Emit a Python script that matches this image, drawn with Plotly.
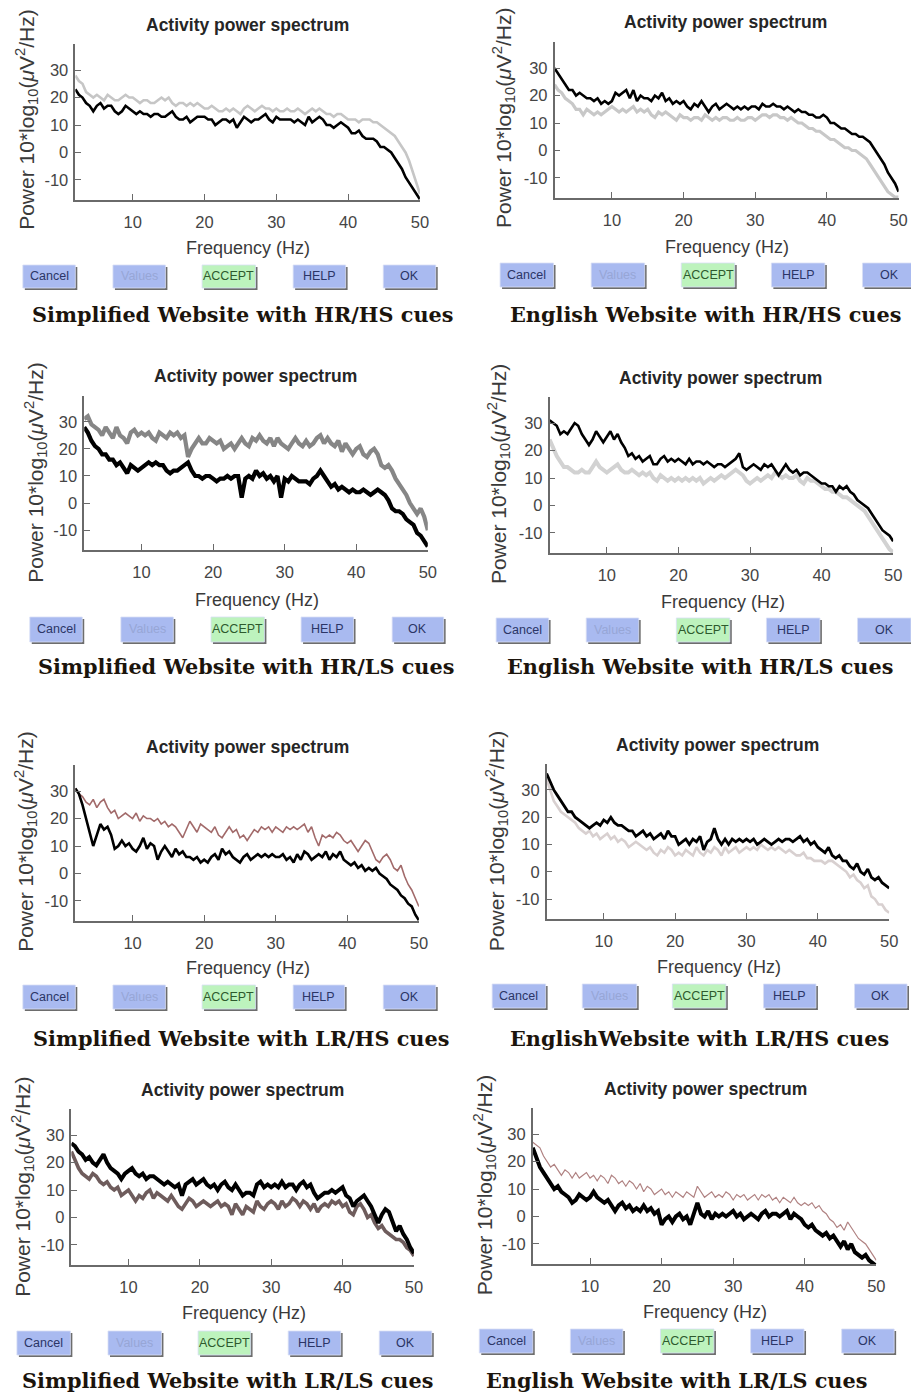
import numpy as np
import plotly.graph_objects as go

# page body has an 8 px default margin: the figure is sized/offset to fill the 919x1397 window
W, H, OFF = 911, 1389, 8
FREQ = np.arange(2.0, 50.01, 0.5)

# ---------------- data (dB), 2..50 Hz in 0.5 Hz steps ----------------
simp_hrhs_black = [23,21,20,18,17,15,17,18,16,17, 17,15,14,15,17,16,15,14,15,14,
                   14,13,14,14,13,13,14,15,13,12, 12,13,11,12,13,13,13,12,12,10,
                   11,12,12,11,12,9,11,13,12,11, 12,12,13,14,12,11,13,12,12,12,
                   12,11,12,11,10,13,11,12,13,12, 10,10,9,10,11,10,9,7,7,8,
                   6,5,5,5,4,2,2,1,0,-2, -4,-6,-9,-11,-13,-15,-17]
simp_hrhs_gray = [28,26,25,22,21,20,21,20,19,21, 20,19,19,20,21,20,20,19,18,19,
                  19,18,18,19,20,19,20,18,17,18, 18,17,18,17,18,17,16,16,17,16,
                  15,15,16,15,16,15,14,16,17,16, 15,16,17,16,16,15,16,15,15,16,
                  15,15,16,15,14,15,16,15,16,15, 14,14,13,14,14,13,12,12,12,11,
                  12,12,12,11,11,10,9,8,7,6, 4,2,0,-3,-7,-11,-15]

eng_hrhs_black = [30,28,26,24,22,22,20,21,20,19, 19,18,19,17,18,17,18,21,20,21,
                  22,19,22,18,20,19,19,18,20,19, 21,18,19,17,18,17,18,16,15,17,
                  16,18,16,14,16,17,15,16,17,16, 15,16,15,16,15,16,16,15,17,16,
                  16,17,16,16,15,16,15,14,15,14, 14,13,13,12,12,13,12,10,10,9,
                  8,8,7,6,6,5,5,4,3,1, -1,-3,-5,-8,-10,-12,-15]
eng_hrhs_gray = [24,22,21,19,18,17,15,15,13,15, 14,13,14,13,14,15,16,15,14,15,
                 14,15,16,14,15,14,15,13,12,14, 13,14,13,12,11,13,12,12,11,12,
                 12,11,13,12,11,12,11,12,12,11, 11,12,11,11,12,12,11,12,13,13,
                 12,13,13,12,12,11,12,11,10,10, 9,8,8,7,7,6,5,4,4,3,
                 2,1,1,0,0,-1,-2,-3,-5,-7, -9,-11,-13,-15,-16,-17,-17]

simp_hrls_black = [28,26,23,21,20,18,18,16,16,14, 15,13,11,14,13,12,13,14,15,14,
                   15,14,14,12,11,12,12,13,14,15, 12,10,10,9,10,10,9,8,9,9,
                   10,9,10,10,2,9,10,9,12,10, 11,9,10,8,10,2,9,8,10,9,
                   8,8,8,7,9,10,12,10,8,6, 7,5,6,5,4,5,4,4,5,4,
                   3,4,5,4,3,1,-2,-3,-3,-4, -6,-7,-8,-11,-12,-14,-16]
simp_hrls_gray = [31,32,29,28,27,25,28,26,24,28, 25,24,22,26,27,25,26,25,26,24,
                  23,26,25,24,26,25,26,24,25,17, 20,22,24,22,22,24,23,22,23,20,
                  21,22,20,22,24,22,21,24,23,25, 23,22,24,21,24,22,21,20,22,24,
                  22,21,23,21,22,24,25,22,24,22, 21,23,19,22,20,18,20,21,18,17,
                  19,20,18,14,13,14,12,9,7,5, 3,0,-2,-4,-2,-5,-10]

eng_hrls_black = [31,30,29,26,27,26,28,30,29,26, 24,22,24,27,25,23,25,27,24,26,
                  23,21,18,19,17,18,16,17,18,15, 15,17,18,16,17,16,17,16,15,17,
                  15,16,16,15,16,15,14,15,15,14, 15,16,17,19,14,13,14,15,14,13,
                  15,14,15,13,11,13,15,13,12,13, 11,12,12,11,10,9,8,8,7,7,
                  5,7,6,7,5,4,2,1,0,-1, -3,-5,-7,-9,-10,-11,-13]
eng_hrls_gray = [24,21,18,16,14,14,13,12,12,13, 12,12,14,16,14,13,12,13,14,15,
                 13,12,12,13,12,11,12,11,12,10, 9,11,10,9,10,9,10,9,10,9,
                 10,9,10,8,9,10,9,10,11,10, 11,12,13,12,11,9,8,9,10,9,
                 10,11,10,12,11,10,11,10,10,11, 9,8,10,9,9,8,7,6,6,5,
                 5,4,3,3,2,1,0,-1,-2,-4, -6,-8,-10,-12,-14,-16,-17]

simp_lrhs_black = [31,29,25,20,16,10,14,18,16,17, 14,9,10,12,10,11,9,8,10,13,
                   9,11,10,5,8,10,8,6,9,7, 8,6,6,5,6,4,5,4,6,7,
                   5,9,7,8,6,5,4,6,7,5, 6,7,6,7,6,7,6,6,7,5,
                   6,4,7,5,8,7,5,6,7,6, 8,5,7,6,8,5,4,3,4,2,
                   3,1,2,1,2,0,-1,-2,-4,-5, -6,-8,-9,-11,-12,-15,-17]
simp_lrhs_brown = [31,29,28,26,25,27,24,26,27,24, 22,23,20,21,22,21,20,22,19,21,
                   20,20,19,20,18,19,17,18,17,15, 13,16,19,17,15,18,17,16,15,17,
                   14,13,15,17,15,16,13,14,12,14, 16,15,17,16,17,15,17,16,15,17,
                   16,17,16,17,18,15,17,13,10,14, 13,14,13,15,14,12,11,12,10,8,
                   10,12,11,8,5,4,6,7,5,2, 1,3,-1,-4,-6,-9,-12]

eng_lrhs_black = [36,33,30,28,26,24,22,22,20,19, 18,17,16,17,18,17,19,18,20,18,
                  17,17,16,15,15,13,14,15,13,14, 12,13,14,12,15,13,13,10,11,12,
                  10,12,11,13,8,11,12,16,12,10, 12,10,12,11,12,11,12,11,12,10,
                  11,12,11,10,11,12,11,12,12,11, 12,13,11,12,10,11,9,8,7,9,
                  6,5,6,4,4,2,1,3,0,-1, 1,-2,-3,-2,-4,-5,-6]
eng_lrhs_gray = [34,30,26,24,22,21,20,19,18,16, 15,14,15,13,14,12,13,14,12,13,
                 11,12,11,9,10,11,10,9,8,9, 7,6,8,7,9,8,6,7,6,8,
                 7,6,9,7,6,8,7,9,8,6, 9,7,8,9,7,8,9,8,9,8,
                 10,9,8,9,8,9,8,7,8,7, 6,6,7,5,5,4,4,4,3,4,
                 4,3,2,1,0,-2,-1,-3,-4,-6, -5,-9,-10,-12,-12,-14,-15]

simp_lrls_black = [27,26,24,23,21,22,20,19,21,23, 20,18,17,16,14,16,17,18,16,15,
                   16,14,15,15,14,13,12,13,12,11, 12,8,12,13,14,12,13,14,12,11,
                   12,10,12,13,11,10,12,10,8,9, 9,8,12,13,11,12,11,12,11,13,
                   11,12,12,10,12,13,11,12,9,7, 8,9,9,10,9,10,11,8,7,4,
                   6,7,8,6,4,1,-2,1,3,2, -2,-5,-3,-6,-8,-11,-13]
simp_lrls_brown = [24,21,18,16,15,14,16,15,13,12, 13,11,10,11,8,9,10,8,6,8,
                   7,9,10,7,9,8,7,6,8,6, 4,3,5,7,6,4,5,6,5,4,
                   5,6,4,5,4,1,5,3,1,4, 3,2,6,4,3,5,6,5,3,6,
                   4,5,7,6,4,6,5,3,5,2, 4,5,4,6,5,6,4,5,2,1,
                   4,5,3,0,1,-2,-4,-3,-5,-6, -7,-8,-8,-9,-11,-12,-14]

eng_lrls_black = [25,21,18,16,14,12,10,11,9,8, 7,5,6,8,7,6,7,9,7,6,
                  5,6,4,2,4,5,3,4,2,3, 2,4,2,3,1,2,-3,-1,0,-2,
                  0,1,-1,0,-3,1,5,1,0,2, -1,1,0,1,0,1,2,0,1,-1,
                  0,1,0,-1,1,2,0,1,1,0, 1,2,-1,1,0,-1,-3,-4,-3,-5,
                  -6,-7,-6,-8,-7,-9,-11,-9,-12,-10, -13,-14,-15,-14,-16,-17,-18]
eng_lrls_brown = [27,26,25,22,20,18,19,17,15,17, 16,14,16,14,15,16,14,15,13,15,
                  14,12,15,14,12,13,11,13,12,10, 12,9,11,10,8,9,10,8,9,7,
                  9,8,7,9,8,7,11,9,7,8, 9,7,8,7,9,8,6,8,7,8,
                  6,7,8,6,8,7,8,6,7,5, 7,6,5,7,5,4,5,4,5,3,
                  4,2,1,-1,-2,-4,-3,-5,-2,-4, -6,-8,-9,-10,-12,-14,-16]

CAPTIONS = ["Simplified Website with HR/HS cues", "English Website with HR/HS cues",
            "Simplified Website with HR/LS cues", "English Website with HR/LS cues",
            "Simplified Website with LR/HS cues", "EnglishWebsite with LR/HS cues",
            "Simplified Website with LR/LS cues", "English Website with LR/LS cues"]
X_TICKS = [10, 20, 30, 40, 50]
Y_TICKS = [-10, 0, 10, 20, 30]
Y_TICKTEXT = ["-10", "0", "10", "20", "30"]
X_RANGE = [2, 50]
Y_RANGE = [-17.3, 39.5]
BUTTONS = ["Cancel", "Values", "ACCEPT", "HELP", "OK"]

# ---------------- layout (pixel geometry in the 919x1397 window) ----------------
PANELS = [
    dict(series=[(simp_hrhs_gray, "#c6c6c6", 2.6), (simp_hrhs_black, "#000000", 2.6)],
         box=(76, 424, 44, 200), title=(250, 25), xl=(250, 248), yl=(27, 120), cap=(245, 315),
         by=(265, 288), bx=[(23, 76), (114, 167), (204, 258), (296, 349), (387, 440)]),
    dict(series=[(eng_hrhs_gray, "#c8c8c8", 3.2), (eng_hrhs_black, "#000000", 2.6)],
         box=(560, 907.5, 42, 198), title=(733, 22), xl=(734, 247), yl=(509, 118), cap=(712, 315),
         by=(263, 287), bx=[(505, 559), (597, 651), (688, 742), (779, 833), (871, 925)]),
    dict(series=[(simp_hrls_gray, "#868686", 4.2), (simp_hrls_black, "#000000", 4.2)],
         box=(85, 432, 396, 550), title=(258, 376), xl=(259, 600), yl=(35, 473), cap=(248, 667),
         by=(617, 642), bx=[(30, 83), (122, 175), (213, 267), (304, 357), (396, 448)]),
    dict(series=[(eng_hrls_gray, "#d2d2d2", 4.0), (eng_hrls_black, "#000000", 2.6)],
         box=(555, 902, 397, 553), title=(728, 378), xl=(730, 602), yl=(503, 474), cap=(707, 667),
         by=(618, 642), bx=[(501, 554), (592, 645), (683, 737), (774, 828), (866, 920)]),
    dict(series=[(simp_lrhs_brown, "#a26a6a", 1.6), (simp_lrhs_black, "#000000", 2.6)],
         box=(76, 423, 765, 921), title=(250, 747), xl=(250, 968), yl=(25, 842), cap=(243, 1038),
         by=(985, 1009), bx=[(23, 76), (114, 167), (204, 258), (296, 348), (387, 440)]),
    dict(series=[(eng_lrhs_gray, "#d8d0d0", 2.6), (eng_lrhs_black, "#000000", 2.8)],
         box=(552, 898, 764, 919), title=(725, 745), xl=(726, 967), yl=(501, 841), cap=(706, 1038),
         by=(984, 1008), bx=[(497, 551), (588, 643), (679, 733), (771, 824), (863, 916)]),
    dict(series=[(simp_lrls_brown, "#6e5c5c", 3.6), (simp_lrls_black, "#000000", 4.0)],
         box=(72, 418, 1109, 1265), title=(245, 1090), xl=(246, 1313), yl=(22, 1187), cap=(230, 1380),
         by=(1331, 1355), bx=[(17, 71), (109, 163), (200, 253), (291, 344), (383, 436)]),
    dict(series=[(eng_lrls_brown, "#b08282", 1.2), (eng_lrls_black, "#000000", 4.0)],
         box=(538, 885, 1108, 1264), title=(712, 1089), xl=(712, 1312), yl=(489, 1185), cap=(683, 1380),
         by=(1329, 1353), bx=[(484, 538), (576, 629), (667, 721), (758, 812), (850, 903)]),
]

BTN_FILL = {"Cancel": "#a9baf0", "Values": "#a9baf0", "ACCEPT": "#bdf3bd", "HELP": "#a9baf0", "OK": "#a9baf0"}
BTN_TXT = {"Cancel": "#2b3566", "Values": "#97a6d6", "ACCEPT": "#2d5a2d", "HELP": "#2b3566", "OK": "#2b3566"}

SANS = "Liberation Sans, Arial, sans-serif"
SERIF = "DejaVu Serif, serif"


def fx(x):
    return (x - OFF) / W


def fy(y):
    return 1 - (y - OFF) / H


fig = go.Figure()
layout = dict(width=W, height=H, margin=dict(l=0, r=0, t=0, b=0),
              paper_bgcolor="white", plot_bgcolor="white", showlegend=False)
annotations = []
shapes = []

for i, p in enumerate(PANELS):
    n = i + 1
    xa = "x" if n == 1 else f"x{n}"
    ya = "y" if n == 1 else f"y{n}"
    for vals, color, width in p["series"]:
        fig.add_trace(go.Scatter(x=FREQ, y=vals, mode="lines", xaxis=xa, yaxis=ya,
                                 line=dict(color=color, width=width), hoverinfo="skip"))
    l, r, t, b = p["box"]
    axis_common = dict(showgrid=False, zeroline=False, showline=True, linecolor="#6a6a6a",
                       linewidth=1.5, ticks="inside", ticklen=6, tickwidth=1.3, tickcolor="#6a6a6a",
                       tickfont=dict(family=SANS, size=16.5, color="#454545"), fixedrange=True)
    layout["xaxis" if n == 1 else f"xaxis{n}"] = dict(
        axis_common, domain=[fx(l), fx(r)], range=X_RANGE, tickvals=X_TICKS,
        anchor=ya, ticklabelstandoff=6)
    layout["yaxis" if n == 1 else f"yaxis{n}"] = dict(
        axis_common, domain=[fy(b), fy(t)], range=Y_RANGE, tickvals=Y_TICKS, ticktext=Y_TICKTEXT,
        anchor=xa, ticklabelstandoff=2)

    annotations.append(dict(text="Activity power spectrum", x=fx(p["title"][0]), y=fy(p["title"][1]),
                            xref="paper", yref="paper", showarrow=False, xanchor="center", yanchor="middle",
                            font=dict(family=SANS, size=17.5, color="#262626", weight="bold")))
    annotations.append(dict(text="Frequency (Hz)", x=fx(p["xl"][0]), y=fy(p["xl"][1]),
                            xref="paper", yref="paper", showarrow=False, xanchor="center", yanchor="middle",
                            font=dict(family=SANS, size=18, color="#3a3a3a")))
    annotations.append(dict(text="Power 10*log<sub>10</sub>(<i>μ</i>V<sup>2</sup>/Hz)",
                            x=fx(p["yl"][0]), y=fy(p["yl"][1]), textangle=-90,
                            xref="paper", yref="paper", showarrow=False, xanchor="center", yanchor="middle",
                            font=dict(family=SANS, size=21, color="#3a3a3a")))
    annotations.append(dict(text=f"<b>{CAPTIONS[i]}</b>", x=fx(p["cap"][0]), y=fy(p["cap"][1]),
                            xref="paper", yref="paper", showarrow=False, xanchor="center", yanchor="middle",
                            font=dict(family=SERIF, size=20.8, color="#1b140c")))
    y0, y1 = p["by"]
    for name, (x0, x1) in zip(BUTTONS, p["bx"]):
        shapes.append(dict(type="rect", xref="paper", yref="paper", x0=fx(x0 + 2), x1=fx(x1 + 2),
                           y0=fy(y1 + 2), y1=fy(y0 + 2), fillcolor="#6d6d6d", line=dict(width=0), layer="below"))
        shapes.append(dict(type="rect", xref="paper", yref="paper", x0=fx(x0), x1=fx(x1),
                           y0=fy(y1), y1=fy(y0), fillcolor=BTN_FILL[name],
                           line=dict(color="#d8def5", width=0.8), layer="below"))
        annotations.append(dict(text=name, x=fx((x0 + x1) / 2), y=fy((y0 + y1) / 2),
                                xref="paper", yref="paper", showarrow=False, xanchor="center", yanchor="middle",
                                font=dict(family=SANS, size=12.5, color=BTN_TXT[name])))

layout["annotations"] = annotations
layout["shapes"] = shapes
fig.update_layout(**layout)
fig.write_html("out.html")
